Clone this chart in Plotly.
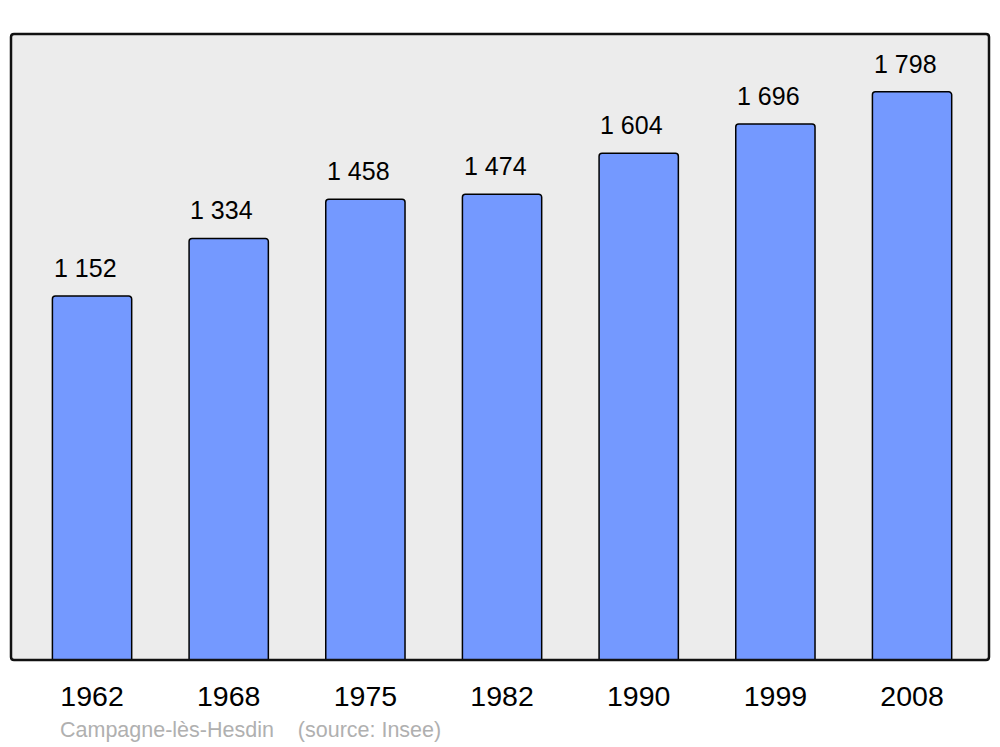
import plotly.graph_objects as go

years = ["1962", "1968", "1975", "1982", "1990", "1999", "2008"]
population = [1152, 1334, 1458, 1474, 1604, 1696, 1798]
source_text = "Campagne-lès-Hesdin    (source: Insee)"

def fmt(v):
    return f"{v:,}".replace(",", " ")

x_idx = list(range(len(years)))

# page has an 8px body margin; compensate
W, H = 992, 739
L, R, T, B = 3, 11, 26, 87
pw, ph = W - L - R, H - T - B

fig = go.Figure()
fig.add_trace(go.Bar(
    x=x_idx, y=population, width=0.58,
    marker=dict(color="#7499ff", line=dict(color="#000000", width=1.5), cornerradius=3),
    hoverinfo="skip",
))

for i, v in zip(x_idx, population):
    fig.add_annotation(x=i, y=v, text=fmt(v), showarrow=False, xref="x", yref="y",
                       yanchor="middle", yshift=28, xshift=-7,
                       font=dict(size=25, color="#000000", family="Liberation Sans, Arial, sans-serif"))

fig.add_annotation(
    x=(58 - 8 - L) / pw, y=(H - B - (730 - 8)) / ph, xref="paper", yref="paper",
    text=source_text, showarrow=False, xanchor="left", yanchor="middle",
    font=dict(size=21.5, color="#b0b0b0", family="Liberation Sans, Arial, sans-serif"))

r = 3.0
rx, ry = r / pw, r / ph
path = (f"M {rx},0 L {1-rx},0 Q 1,0 1,{ry} L 1,{1-ry} Q 1,1 {1-rx},1 "
        f"L {rx},1 Q 0,1 0,{1-ry} L 0,{ry} Q 0,0 {rx},0 Z")
fig.add_shape(type="path", path=path, xref="paper", yref="paper",
              line=dict(color="#111111", width=2.5), fillcolor="rgba(0,0,0,0)", layer="above")

fig.update_layout(
    width=W, height=H,
    margin=dict(l=L, r=R, t=T, b=B, pad=0),
    paper_bgcolor="#ffffff", plot_bgcolor="#ececec",
    showlegend=False,
    font=dict(family="Liberation Sans, Arial, sans-serif", color="#000000"),
    xaxis=dict(range=[-0.593, 6.563], tickvals=x_idx, ticktext=years, showgrid=False,
               zeroline=False, showline=False, ticks="", tickfont=dict(size=28.5, color="#000000"),
               ticklabelstandoff=16, fixedrange=True),
    yaxis=dict(range=[0, 1981], showgrid=False, zeroline=False, showline=False,
               showticklabels=False, ticks="", fixedrange=True),
)

fig.write_html("out.html")
